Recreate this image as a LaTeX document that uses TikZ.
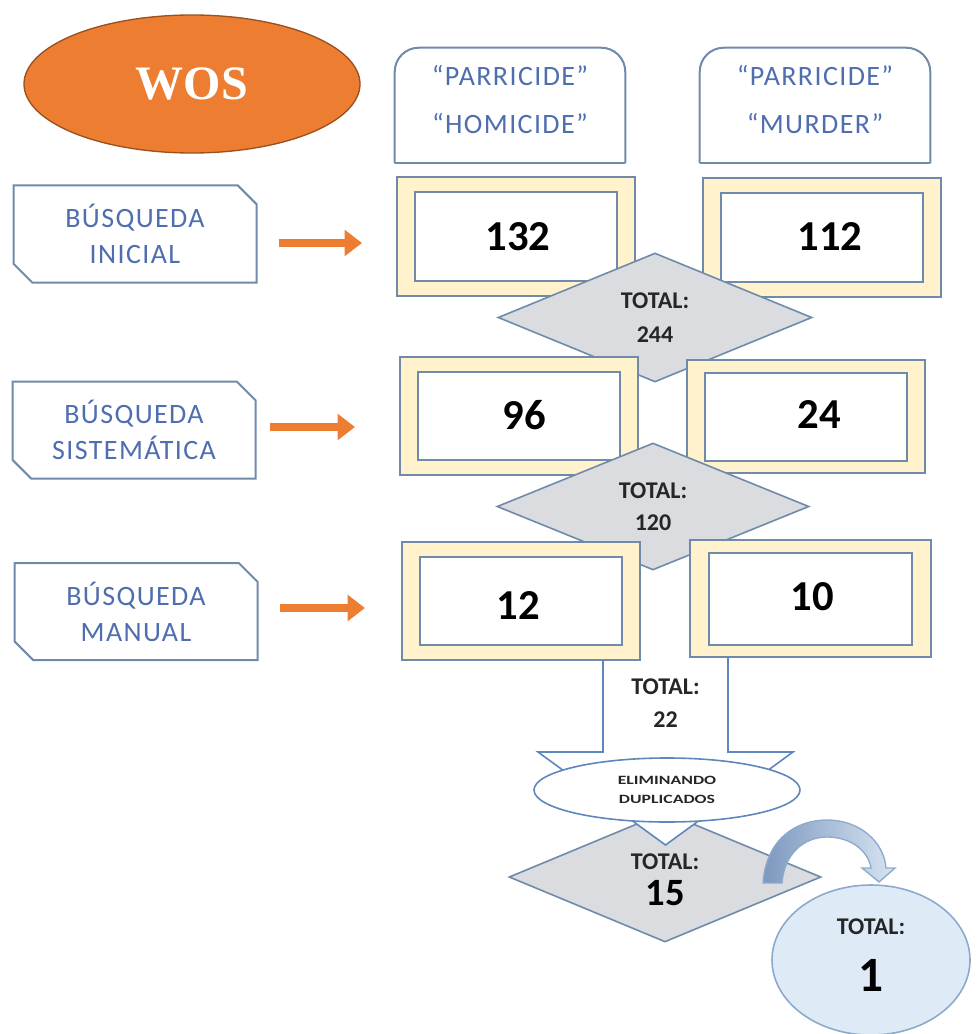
\documentclass[tikz,border=0pt]{standalone}
\usepackage{fontspec}
\usepackage{graphicx}
\setmainfont{Carlito}
\newfontfamily\wosfont{Liberation Serif}
\usetikzlibrary{shapes.geometric,shapes.misc,arrows.meta,calc}
\definecolor{orng}{RGB}{237,125,49}
\definecolor{bord}{RGB}{112,138,170}
\definecolor{cream}{RGB}{255,242,204}
\definecolor{dgray}{RGB}{218,220,224}
\definecolor{tblue}{RGB}{79,110,175}
\definecolor{lblue}{RGB}{222,235,247}
\definecolor{cblue}{RGB}{140,170,205}
\definecolor{ablue}{RGB}{95,135,190}
\definecolor{gradA}{RGB}{125,152,190}
\definecolor{gradB}{RGB}{215,228,243}
\def\pxu{0.75pt}
\begin{document}
\begin{tikzpicture}[x=0.75pt,y=-0.75pt,
  outerf/.style={draw=bord,line width=1.5pt,fill=cream,minimum width=238*\pxu,minimum height=118*\pxu,inner sep=0pt},
  innerf/.style={draw=bord,line width=1.5pt,fill=white,minimum width=202*\pxu,minimum height=88*\pxu,inner sep=0pt},
  num/.style={font=\fontsize{32}{36}\selectfont\bfseries,text=black,inner sep=0pt},
  dia/.style={diamond,draw=bord,line width=1.2pt,fill=dgray,inner sep=0pt,minimum width=312*\pxu,minimum height=128*\pxu,align=center,font=\fontsize{18}{21}\selectfont\bfseries,text=black!85},
  tot/.style={inner sep=0pt,align=center,font=\fontsize{18}{21}\selectfont\bfseries,text=black!85},
  lbox/.style={chamfered rectangle,chamfered rectangle corners={north east,south west},chamfered rectangle sep=7pt,draw=bord,line width=1.5pt,fill=white,minimum width=243*\pxu,minimum height=97*\pxu,inner sep=0pt,align=center,text=tblue,font=\fontsize{21}{25}\selectfont\addfontfeature{LetterSpace=5}},
  hdr/.style={minimum width=230*\pxu,minimum height=115*\pxu,inner sep=0pt},
  hdrtxt/.style={align=center,text=tblue,inner sep=0pt,font=\fontsize{21}{25}\selectfont\addfontfeature{LetterSpace=5}},
  hdrline/.style={draw=bord,line width=1.5pt},
  oarr/.style={draw=orng,line width=6.5pt,-{Triangle[length=13pt,width=19pt]}},
  blockarrow/.style={draw=ablue,line width=1.2pt,line join=miter}
]
\useasboundingbox (0,0) rectangle (977,1034);

% WOS
\node[ellipse,fill=orng,draw=orng!65!black,line width=1pt,minimum width=336*\pxu,minimum height=138*\pxu,inner sep=0pt,text=white,font=\wosfont\bfseries\fontsize{36}{38}\selectfont] (wos) at (192,84) {WOS};

% headers
\node[hdr] (h1) at (510,105.5) {};
\draw[hdrline,rounded corners=18pt] (h1.south west) -- (h1.north west) -- (h1.north east) -- (h1.south east);
\draw[hdrline] (h1.south west) -- (h1.south east);
\node[hdrtxt] (h1t) at (510,100) {“PARRICIDE”\\[11pt]“HOMICIDE”};
\node[hdr] (h2) at (815,105.5) {};
\draw[hdrline,rounded corners=18pt] (h2.south west) -- (h2.north west) -- (h2.north east) -- (h2.south east);
\draw[hdrline] (h2.south west) -- (h2.south east);
\node[hdrtxt] (h2t) at (815,100) {“PARRICIDE”\\[11pt]“MURDER”};

% left boxes
\node[lbox] (lb1) at (135,234) {BÚSQUEDA\\[2pt]INICIAL};
\node[lbox] (lb2) at (134,430) {BÚSQUEDA\\[2pt]SISTEMÁTICA};
\node[lbox] (lb3) at (136,611.5) {BÚSQUEDA\\[2pt]MANUAL};

% row 1
\node[outerf] (f1l) at (516,236.5) {};
\node[innerf] (i1l) at (f1l) {};
\node[num] (n132) at (518,237) {132};
\node[outerf] (f1r) at (822,237.5) {};
\node[innerf] (i1r) at (f1r) {};
\node[num] (n112) at (830,237) {112};

\node[dia,minimum height=129*\pxu,minimum width=314*\pxu] (d1) at (655,317.5) {TOTAL:\\[5pt]244};

% row 2
\node[outerf] (f2l) at (518.5,415.5) {};
\node[innerf] (i2l) at (f2l) {};
\node[num] (n96) at (524,415) {96};
\node[outerf,minimum height=113*\pxu] (f2r) at (806,416.5) {};
\node[innerf] (i2r) at (f2r) {};
\node[num] (n24) at (819,415) {24};

\node[dia,minimum height=127*\pxu] (d2) at (653,506.5) {TOTAL:\\[3pt]120};

% final diamond (under the block arrow)
\node[dia,minimum height=130*\pxu] (d3) at (665,877) {};
\node[tot] (d3a) at (665,862) {TOTAL:};
\node[tot,font=\fontsize{29}{32}\selectfont\bfseries,text=black] (d3b) at (665,893) {15};

% block arrow
\fill[white] (603,648) -- (603,752) -- (538,752) -- (665.5,845) -- (793,752) -- (728,752) -- (728,648) -- cycle;
\draw[blockarrow] (603,648) -- (603,752) -- (538,752) -- (665.5,845) -- (793,752) -- (728,752) -- (728,648);

% row 3
\node[outerf] (f3l) at (521,601) {};
\node[innerf] (i3l) at (f3l) {};
\node[num] (n12) at (518,606) {12};
\node[outerf,minimum height=117*\pxu,minimum width=241*\pxu] (f3r) at (810.5,598.5) {};
\node[innerf,minimum height=92*\pxu,minimum width=203*\pxu] (i3r) at (f3r) {};
\node[num] (n10) at (812,597) {10};

\node[tot] (t22) at (665.5,703) {TOTAL:\\[4pt]22};

% eliminating duplicates
\node[ellipse,draw=ablue,fill=white,line width=1.2pt,minimum width=266*\pxu,minimum height=64*\pxu,inner sep=0pt,align=center,font=\fontsize{9.5}{10}\selectfont\bfseries,text=black!85] (elim) at (667,790) {\scalebox{1.4}[1]{ELIMINANDO}\\[4pt]\scalebox{1.4}[1]{DUPLICADOS}};

% final circle
\node[ellipse,draw=cblue,fill=lblue,line width=1.2pt,minimum width=198*\pxu,minimum height=150*\pxu,inner sep=0pt] (c1) at (871,960) {};
\node[tot] (c1a) at (871,927) {TOTAL:};
\node[tot,font=\fontsize{37}{40}\selectfont\bfseries,text=black] (c1b) at (871,975) {1};

% curved arrow from d3 to c1
\path[draw=cblue,line width=1pt,left color=gradA,right color=gradB]
  (763,883) .. controls (766,840) and (795,820) .. (827,820)
  .. controls (860,820) and (884,842) .. (886,868)
  -- (895,868) -- (879,882) -- (862,868) -- (871,868)
  .. controls (868,850) and (850,837) .. (827,837)
  .. controls (803,837) and (784,855) .. (782,883) -- cycle;

% orange arrows
\draw[oarr] ([xshift=21*\pxu,yshift=-9*\pxu]lb1.east) -- ([xshift=-34*\pxu,yshift=-6.5*\pxu]f1l.west);
\draw[oarr] ([xshift=13*\pxu,yshift=3*\pxu]lb2.east) -- ([xshift=-43.5*\pxu,yshift=-11.5*\pxu]f2l.west);
\draw[oarr] ([xshift=21.5*\pxu,yshift=3.5*\pxu]lb3.east) -- ([xshift=-36*\pxu,yshift=-7*\pxu]f3l.west);
\end{tikzpicture}
\end{document}
